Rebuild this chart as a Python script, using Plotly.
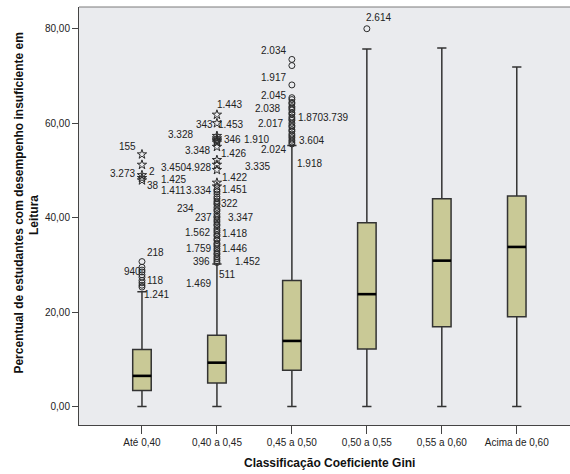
import plotly.graph_objects as go

# Gini classes (x categories)
categories = ["Até 0,40", "0,40 a 0,45", "0,45 a 0,50", "0,50 a 0,55", "0,55 a 0,60", "Acima de 0,60"]

# Box statistics per class (% of students with insufficient reading performance)
q1 = [3.4, 5.0, 7.7, 12.2, 16.9, 19.0]
median = [6.5, 9.3, 13.9, 23.8, 30.9, 33.8]
q3 = [12.1, 15.1, 26.7, 38.9, 44.0, 44.6]
lower_fence = [0.0, 0.0, 0.0, 0.0, 0.0, 0.0]
upper_fence = [24.3, 30.2, 55.3, 75.7, 75.9, 71.9]

# Outliers (circles) and extreme values (stars) per class
circles_ate_040 = [30.7, 29.5, 28.9, 28.5, 27.9, 27.4, 26.7, 26.2, 25.7, 25.3]
stars_ate_040 = [53.4, 51.2, 49.0, 48.4, 47.9]

circles_040_045 = [45.9, 45.5, 45.0, 44.4, 44.0, 43.5, 43.1, 42.8, 42.2, 41.7, 41.4, 40.8,
                   40.3, 40.0, 39.5, 39.1, 38.6, 38.3, 37.7, 37.3, 36.9, 36.4, 36.1, 35.5,
                   35.2, 34.6, 34.3, 33.9, 33.4, 33.0, 32.5, 32.2, 31.7, 31.3, 30.9, 30.5]
stars_040_045 = [61.8, 60.0, 57.3, 56.8, 56.5, 56.2, 55.9, 55.0, 52.2, 51.2, 50.1, 47.4, 46.6]

circles_045_050 = [73.5, 72.2, 68.1, 65.4, 65.0, 64.4, 64.1, 63.5, 63.2, 62.8, 62.2, 61.9,
                   61.3, 60.9, 60.6, 60.0, 59.5, 59.2, 58.6, 58.3, 57.7, 57.3, 56.9, 56.4,
                   56.0, 55.6]

circles_050_055 = [80.0]

# Case labels: text, x (axis units), y (axis units), anchor side
label_text = ["155", "2", "3.273", "38", "218", "940", "118", "1.241",
              "1.443", "343", "1.453", "3.328", "346", "3.348", "1.426", "3.450", "4.928",
              "1.422", "1.425", "1.411", "3.334", "1.451", "234", "322", "237", "3.347",
              "1.562", "1.418", "1.759", "1.446", "396", "1.452", "511", "1.469",
              "2.034", "1.917", "2.045", "2.038", "2.017", "1.870", "3.739", "1.910",
              "3.604", "2.024", "3.335", "1.918",
              "2.614"]
label_x = [-0.053, 0.063, -0.067, 0.04, 0.04, 0.013, 0.04, 0.0,
           0.973, 0.973, 0.987, 0.707, 1.063, 0.933, 1.027, 0.609, 0.947,
           1.04, 0.613, 0.613, 0.947, 1.04, 0.72, 1.027, 0.96, 1.12,
           0.933, 1.04, 0.947, 1.04, 0.933, 1.217, 0.996, 0.947,
           1.947, 1.947, 1.947, 1.867, 1.907, 2.053, 2.387, 1.72,
           2.067, 1.947, 1.733, 2.04,
           2.964]
label_y = [54.98, 49.75, 49.26, 46.72, 32.58, 28.56, 26.65, 23.83,
           64.03, 59.64, 59.64, 57.52, 56.46, 54.13, 53.64, 50.68, 50.68,
           48.56, 47.99, 45.66, 45.66, 46.02, 41.99, 43.05, 40.08, 40.08,
           36.82, 36.69, 33.52, 33.52, 30.68, 30.68, 28.07, 26.10,
           75.38, 69.66, 65.85, 63.03, 60.0, 61.27, 61.27, 56.46,
           56.25, 54.34, 50.81, 51.53,
           82.46]
label_side = ["right", "left", "right", "left", "left", "right", "left", "left",
              "left", "right", "left", "right", "left", "right", "left", "right", "right",
              "left", "right", "right", "right", "left", "right", "left", "right", "left",
              "right", "left", "right", "left", "right", "left", "left", "right",
              "right", "right", "right", "right", "right", "left", "left", "right",
              "left", "right", "right", "left",
              "left"]

y_ticks = [0, 20, 40, 60, 80]
y_tick_text = ["0,00", "20,00", "40,00", "60,00", "80,00"]

BOX_W = 0.247
FONT = "Liberation Sans, Arial, sans-serif"
MARK = "#2b2b2b"

positions = list(range(len(categories)))

fig = go.Figure()

fig.add_trace(go.Box(
    x=positions, q1=q1, median=median, q3=q3,
    lowerfence=lower_fence, upperfence=upper_fence,
    width=BOX_W, whiskerwidth=0.5,
    fillcolor="#c9c996", line=dict(color="#333333", width=1.5),
    boxpoints=False, showlegend=False, hoverinfo="skip",
))

# Heavier median bars
mx, my = [], []
for p, m in zip(positions, median):
    mx += [p - BOX_W / 2, p + BOX_W / 2, None]
    my += [m, m, None]
fig.add_trace(go.Scatter(x=mx, y=my, mode="lines", line=dict(color="black", width=2.6),
                         showlegend=False, hoverinfo="skip"))


def add_points(pos, values, symbol, size):
    fig.add_trace(go.Scatter(
        x=[pos] * len(values), y=values, mode="markers",
        marker=dict(symbol=symbol, size=size, color=MARK,
                    line=dict(color=MARK, width=1)),
        showlegend=False, hoverinfo="skip"))


add_points(0, circles_ate_040, "circle-open", 6)
add_points(0, stars_ate_040, "star-open", 7)
add_points(1, circles_040_045, "circle-open", 6)
add_points(1, stars_040_045, "star-open", 7)
add_points(2, circles_045_050, "circle-open", 6)
add_points(3, circles_050_055, "circle-open", 6)

for t, x, y, side in zip(label_text, label_x, label_y, label_side):
    fig.add_annotation(x=x, y=y, text=t, showarrow=False, xanchor=side, yanchor="middle",
                       font=dict(family=FONT, size=10, color="#222222"))

# Axis titles
fig.add_annotation(xref="paper", yref="paper", x=0.511, y=-0.09,
                   text="<b>Classificação Coeficiente Gini</b>", showarrow=False,
                   xanchor="center", yanchor="middle",
                   font=dict(family=FONT, size=12, color="#111111"))
fig.add_annotation(xref="paper", yref="paper", x=-0.122, y=0.53,
                   text="<b>Percentual de estudantes com desempenho insuficiente em</b>",
                   showarrow=False, textangle=-90, xanchor="center", yanchor="middle",
                   font=dict(family=FONT, size=12, color="#111111"))
fig.add_annotation(xref="paper", yref="paper", x=-0.092, y=0.502,
                   text="<b>Leitura</b>",
                   showarrow=False, textangle=-90, xanchor="center", yanchor="middle",
                   font=dict(family=FONT, size=12, color="#111111"))

# Top frame edge
fig.add_shape(type="line", xref="paper", yref="paper", x0=0, x1=1, y0=1, y1=1,
              line=dict(color="#7a7a7a", width=1))

fig.update_layout(
    width=570, height=474,
    margin=dict(l=79, r=0, t=7, b=49),
    paper_bgcolor="white", plot_bgcolor="#eaebee",
    font=dict(family=FONT, size=10, color="#222222"),
    xaxis=dict(range=[-0.84, 5.71], tickmode="array", tickvals=positions, ticktext=categories,
               showgrid=False, zeroline=False, showline=True, linecolor="#444444", linewidth=1,
               ticks="outside", ticklen=8, tickcolor="#444444",
               tickfont=dict(family=FONT, size=10, color="#222222")),
    yaxis=dict(range=[-3.9, 84.6], tickmode="array", tickvals=y_ticks, ticktext=y_tick_text,
               showgrid=False, zeroline=False, showline=True, linecolor="#444444", linewidth=1,
               ticks="outside", ticklen=6, tickcolor="#444444",
               tickfont=dict(family=FONT, size=10, color="#222222")),
)

fig.write_html("out.html")
